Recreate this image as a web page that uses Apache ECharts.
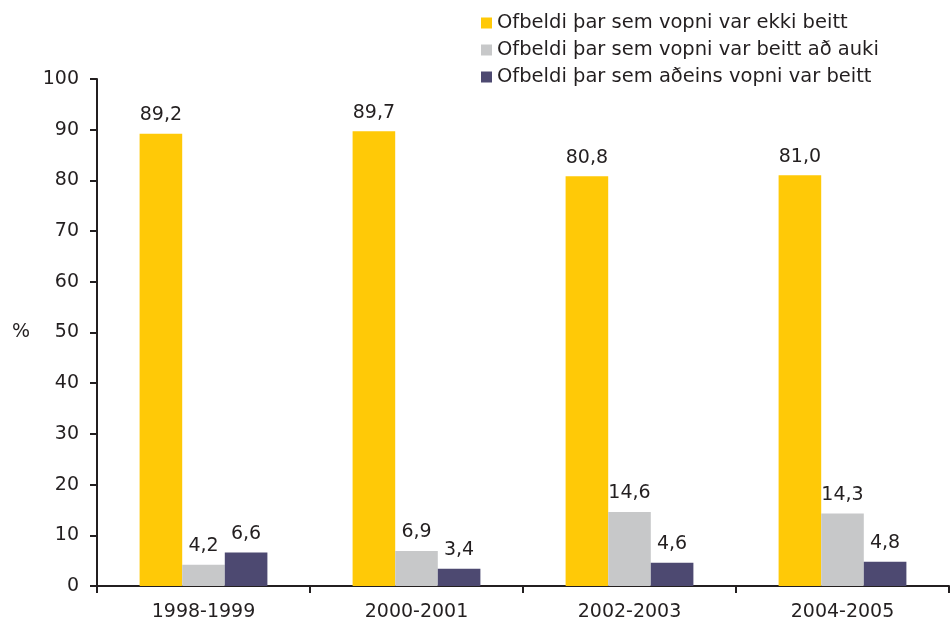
<!DOCTYPE html>
<html>
<head>
<meta charset="utf-8">
<script src="https://cdn.jsdelivr.net/npm/echarts@6/dist/echarts.min.js"></script>
<style>
  html, body { margin: 0; padding: 0; background: #fff; }
  #chart { width: 950px; height: 623px; }
</style>
</head>
<body>
<div id="chart"></div>
<script>
var categories = ["1998-1999", "2000-2001", "2002-2003", "2004-2005"];
var seriesNames = [
  "Ofbeldi þar sem vopni var ekki beitt",
  "Ofbeldi þar sem vopni var beitt að auki",
  "Ofbeldi þar sem aðeins vopni var beitt"
];
var noWeapon = [89.2, 89.7, 80.8, 81.0];
var weaponToo = [4.2, 6.9, 14.6, 14.3];
var weaponOnly = [6.6, 3.4, 4.6, 4.8];
var yTicks = [0, 10, 20, 30, 40, 50, 60, 70, 80, 90, 100];
var colors = ["#FFC907", "#C7C8C9", "#4D4971"];

var font = "DejaVu Sans, Verdana, sans-serif";
var textColor = "#231F20";

var chart = echarts.init(document.getElementById("chart"));

function makeSeries(name, data, color) {
  return {
    name: name,
    type: "bar",
    data: data,
    barGap: "0%",
    barCategoryGap: "40%",
    itemStyle: { color: color },
    label: {
      show: true,
      position: "top",
      distance: 9,
      color: textColor,
      fontFamily: font,
      fontSize: 19,
      formatter: function (p) {
        return p.value.toFixed(1).replace(".", ",");
      },
    },
  };
}

chart.setOption({
  animation: false,
  textStyle: { fontFamily: font },
  grid: {
    left: 97,
    right: 1,
    top: 79,
    bottom: 37,
    containLabel: false,
  },
  legend: {
    orient: "vertical",
    left: 476,
    top: 8,
    itemWidth: 11,
    itemHeight: 11,
    itemGap: 7,
    icon: "rect",
    textStyle: { color: textColor, fontSize: 19.5, fontFamily: font },
    data: seriesNames,
  },
  xAxis: {
    type: "category",
    data: categories,
    axisLine: { lineStyle: { color: textColor, width: 2 } },
    axisTick: { show: true, length: 7, lineStyle: { color: textColor, width: 2 } },
    axisLabel: { color: textColor, fontSize: 19, fontFamily: font, margin: 17 },
  },
  yAxis: {
    type: "value",
    min: yTicks[0],
    max: yTicks[yTicks.length - 1],
    interval: 10,
    name: "%",
    nameLocation: "middle",
    nameRotate: 0,
    nameGap: 67,
    nameTextStyle: { color: textColor, fontSize: 19, fontFamily: font },
    axisLine: { show: true, lineStyle: { color: textColor, width: 2 } },
    axisTick: { show: true, length: 7, lineStyle: { color: textColor, width: 2 } },
    axisLabel: { color: textColor, fontSize: 19, fontFamily: font, margin: 18 },
    splitLine: { show: false },
  },
  series: [
    makeSeries(seriesNames[0], noWeapon, colors[0]),
    makeSeries(seriesNames[1], weaponToo, colors[1]),
    makeSeries(seriesNames[2], weaponOnly, colors[2]),
  ],
});
</script>
</body>
</html>
